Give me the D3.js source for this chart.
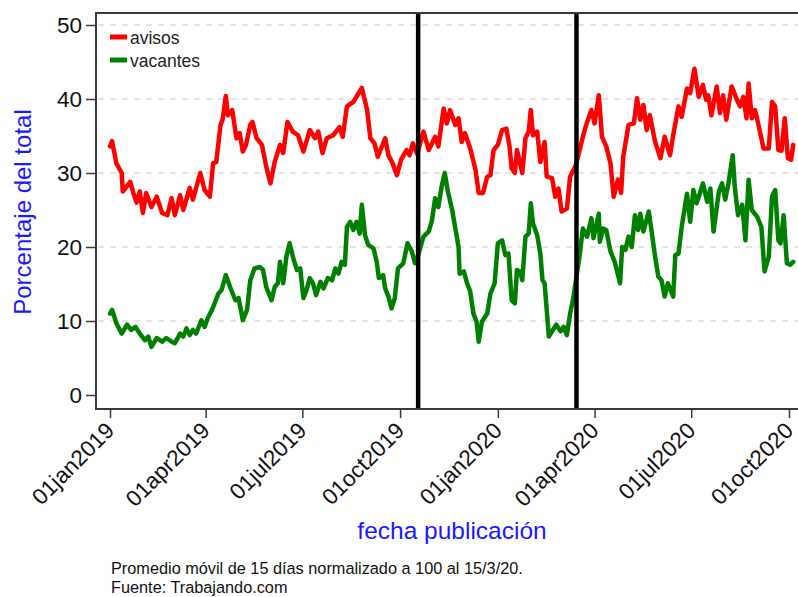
<!DOCTYPE html>
<html>
<head>
<meta charset="utf-8">
<script src="https://cdn.jsdelivr.net/npm/d3@7"></script>
<style>
  body { margin: 0; background: #fff; }
  text { font-family: "Liberation Sans", Arial, sans-serif; }
</style>
</head>
<body>
<div id="chart"></div>
<script>
// dias desde 01jan2019
var diasAvisos = [0,2,6,11,12,19,22,25,28,31,34,39,44,49,54,58,61,66,69,75,78,85,89,94,97,100,104,106,109,111,115,119,122,125,128,132,134,138,143,147,151,155,160,163,167,172,177,182,188,193,196,200,204,210,216,219,223,229,232,237,242,245,249,252,259,262,266,270,274,279,282,285,289,295,300,306,309,314,317,320,325,328,331,334,339,344,347,351,355,358,361,365,369,373,376,378,381,383,388,391,394,396,398,402,405,409,411,416,419,422,425,430,433,438,442,445,449,453,456,460,463,467,471,474,478,481,483,488,493,496,499,502,505,508,513,518,522,527,530,535,538,543,546,550,554,558,561,563,566,571,574,577,580,585,590,593,596,599,601,604,607,610,615,620,623,626,629,632,635,638,641,643];
var avisos = [33.6,34.3,31.3,30.0,27.5,28.8,27.3,26.0,27.5,24.6,27.3,25.4,26.8,24.6,24.3,26.6,24.3,27.0,25.0,28.0,26.4,30.0,27.7,26.8,31.3,31.5,36.5,37.2,40.4,37.8,38.5,34.7,35.4,32.9,33.8,36.5,36.9,34.7,33.8,30.9,28.6,31.5,33.8,32.7,36.9,35.6,35.1,32.9,35.8,34.7,35.6,32.7,34.7,35.1,36.2,34.9,39.0,39.6,40.3,41.5,38.5,34.7,34.0,32.2,34.7,32.4,31.3,29.7,31.8,33.1,32.4,34.0,32.6,35.6,33.1,34.9,33.6,38.7,36.7,38.5,36.5,37.4,34.2,35.4,33.3,30.4,27.3,27.3,29.5,29.7,33.1,33.8,35.8,36.0,33.6,30.6,30.0,33.1,30.0,34.7,35.6,38.5,35.1,35.6,31.5,34.2,29.5,29.3,26.8,27.9,24.8,25.2,29.5,30.9,33.1,34.9,36.9,38.5,36.7,40.5,34.9,33.6,31.3,26.8,29.1,27.3,32.2,36.5,36.7,40.1,37.2,39.2,35.8,37.8,34.2,32.0,34.9,32.4,35.1,39.0,37.6,41.4,40.8,44.1,40.3,41.9,39.9,40.5,37.8,41.7,38.1,40.5,37.2,41.7,39.9,39.0,40.3,37.4,42.1,37.4,38.5,36.7,33.3,33.3,39.6,39.0,33.1,33.0,37.4,32.0,31.8,33.8];

var diasVacantes = [0,2,6,11,16,20,24,28,33,36,39,44,49,53,58,61,66,69,72,75,78,81,86,89,92,96,99,102,105,109,113,118,121,125,129,132,136,141,144,147,152,155,158,160,163,166,169,173,176,179,182,185,188,191,194,198,201,205,209,212,215,218,221,223,226,229,232,235,237,240,243,248,251,253,257,259,262,265,268,271,276,280,284,287,290,295,300,303,306,309,312,315,318,322,325,328,329,333,336,339,342,345,347,350,355,358,362,365,369,372,375,378,381,383,386,388,391,394,396,398,402,405,407,409,413,416,420,424,427,430,433,436,439,442,445,449,453,455,460,461,464,467,471,475,480,482,485,488,491,494,497,499,502,507,510,513,516,519,522,525,530,532,535,538,543,546,549,552,555,558,562,565,568,573,576,579,582,586,588,591,595,598,601,604,609,613,616,620,623,626,629,631,634,637,640,643];
var vacantes = [11.0,11.5,9.7,8.3,9.5,8.8,9.2,8.3,7.4,7.9,6.5,7.7,7.2,7.7,7.2,7.0,8.3,7.9,9.0,8.1,8.8,8.3,10.1,9.2,10.4,11.5,12.6,13.7,14.2,16.2,14.6,12.8,13.1,10.1,11.5,15.5,17.1,17.3,16.9,14.6,12.8,14.6,15.1,18.0,15.1,18.7,20.5,18.2,16.9,17.1,13.1,14.2,15.8,15.1,13.5,15.3,14.4,15.8,15.5,17.1,16.4,18.0,17.6,22.7,23.4,22.3,23.4,21.8,25.7,21.6,20.3,19.8,18.0,15.8,16.2,14.4,13.3,11.7,13.1,17.1,17.8,20.5,19.4,17.8,18.9,21.4,22.1,23.6,26.6,25.4,28.1,30.0,27.5,25.0,22.5,20.0,16.4,16.7,15.1,14.0,11.0,9.9,7.2,9.9,11.0,13.7,15.1,20.5,20.9,18.9,19.1,12.8,12.4,16.9,16.7,15.5,21.4,21.8,25.9,23.2,21.6,19.1,15.5,15.1,7.9,8.6,9.5,8.6,9.2,8.1,11.0,13.1,16.0,18.9,22.5,21.4,23.9,21.2,24.5,20.7,22.5,22.3,19.4,18.0,15.1,20.0,19.6,21.4,20.0,24.3,22.3,24.5,22.1,24.8,21.8,18.7,16.0,15.5,13.3,15.1,13.3,18.9,19.1,22.7,27.2,23.4,27.7,25.9,27.2,28.6,26.1,27.9,22.1,27.5,28.6,26.4,28.6,32.4,28.1,24.3,25.7,20.9,29.1,25.0,24.1,22.7,16.7,18.7,26.8,27.7,20.9,20.5,24.3,17.8,17.6,18.0];

var xTicks = ["2019-01-01","2019-04-01","2019-07-01","2019-10-01","2020-01-01","2020-04-01","2020-07-01","2020-10-01"];
var xTickLabels = ["01jan2019","01apr2019","01jul2019","01oct2019","01jan2020","01apr2020","01jul2020","01oct2020"];
var yTicks = [0,10,20,30,40,50];
var eventos = ["2019-10-18","2020-03-15"];
var series = ["avisos","vacantes"];
var colores = ["#ff0000","#008000"];

var width = 798, height = 597;
var parse = d3.utcParse("%Y-%m-%d");
var inicio = parse("2019-01-01");

var svg = d3.select("#chart").append("svg").attr("width", width).attr("height", height);

var plotLeft = 96, plotTop = 13, plotRight = 800, plotBottom = 409;

var x = d3.scaleUtc().domain([parse("2019-01-01"), parse("2020-10-01")]).range([110, 789]);
var y = d3.scaleLinear().domain([0, 50]).range([395, 25]);

// grid
svg.append("g").selectAll("line").data(yTicks.filter(function(d) { return d > 0; })).enter()
  .append("line")
  .attr("x1", plotLeft + 2).attr("x2", plotRight)
  .attr("y1", function(d) { return y(d); }).attr("y2", function(d) { return y(d); })
  .attr("stroke", "#dcdcdc").attr("stroke-width", 1.5).attr("stroke-dasharray", "6,6");

function toData(dias, vals) {
  return dias.map(function(d, i) { return { fecha: d3.utcDay.offset(inicio, d), v: vals[i] }; });
}
var datos = [toData(diasAvisos, avisos), toData(diasVacantes, vacantes)];

var line = d3.line().x(function(d) { return x(d.fecha); }).y(function(d) { return y(d.v); });

datos.forEach(function(s, i) {
  svg.append("path").datum(s).attr("d", line)
    .attr("fill", "none").attr("stroke", colores[i]).attr("stroke-width", 4.5)
    .attr("stroke-linejoin", "round").attr("stroke-linecap", "round");
});

// lineas verticales
svg.append("g").selectAll("line").data(eventos).enter().append("line")
  .attr("x1", function(d) { return x(parse(d)); }).attr("x2", function(d) { return x(parse(d)); })
  .attr("y1", plotTop).attr("y2", plotBottom)
  .attr("stroke", "#000").attr("stroke-width", 4.5);

// marco
svg.append("rect").attr("x", plotLeft).attr("y", plotTop)
  .attr("width", plotRight - plotLeft).attr("height", plotBottom - plotTop)
  .attr("fill", "none").attr("stroke", "#3a3a3a").attr("stroke-width", 2);

// eje y
var yAxis = d3.axisLeft(y).tickValues(yTicks).tickSize(10).tickPadding(4);
var gy = svg.append("g").attr("transform", "translate(" + plotLeft + ",0)").call(yAxis);
gy.select(".domain").remove();
gy.selectAll("line").attr("stroke", "#3a3a3a").attr("stroke-width", 1.5);
gy.selectAll("text").attr("font-size", 22.5).attr("fill", "#111").style("font-family", "'Liberation Sans', Arial, sans-serif");

// eje x
var xAxis = d3.axisBottom(x).tickValues(xTicks.map(parse)).tickSize(9)
  .tickFormat(function(d, i) { return xTickLabels[i]; });
var gx = svg.append("g").attr("transform", "translate(0," + plotBottom + ")").call(xAxis);
gx.select(".domain").remove();
gx.selectAll("line").attr("stroke", "#3a3a3a").attr("stroke-width", 1.5);
gx.selectAll("text")
  .attr("x", 0).attr("y", 0).attr("dy", 0)
  .attr("transform", "translate(5,23) rotate(-45)")
  .attr("text-anchor", "end")
  .attr("font-size", 22.5).attr("fill", "#111").style("font-family", "'Liberation Sans', Arial, sans-serif");

// titulos
svg.append("text").attr("transform", "translate(31,212) rotate(-90)")
  .attr("text-anchor", "middle").attr("font-size", 24).attr("fill", "#1a1aff")
  .text("Porcentaje del total");
svg.append("text").attr("x", 452).attr("y", 539)
  .attr("text-anchor", "middle").attr("font-size", 24.5).attr("fill", "#1a1aff")
  .text("fecha publicación");

// leyenda
var leg = svg.append("g").selectAll("g").data(series).enter().append("g")
  .attr("transform", function(d, i) { return "translate(110," + (37 + i * 23) + ")"; });
leg.append("line").attr("x1", 0).attr("x2", 17).attr("y1", 0).attr("y2", 0)
  .attr("stroke", function(d, i) { return colores[i]; }).attr("stroke-width", 5);
leg.append("text").attr("x", 20).attr("y", 6.5).attr("font-size", 17.5).attr("fill", "#222")
  .text(function(d) { return d; });

// notas
svg.append("text").attr("x", 111).attr("y", 574).attr("font-size", 16.3).attr("fill", "#111")
  .text("Promedio móvil de 15 días normalizado a 100 al 15/3/20.");
svg.append("text").attr("x", 111).attr("y", 593).attr("font-size", 16.3).attr("fill", "#111")
  .text("Fuente: Trabajando.com");
</script>
</body>
</html>
